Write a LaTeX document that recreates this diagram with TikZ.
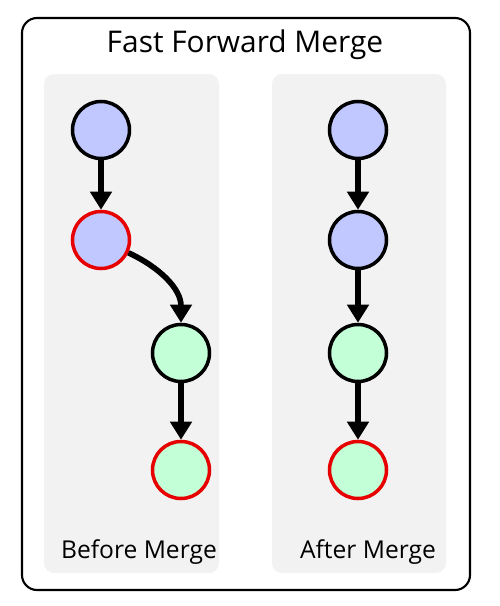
\documentclass[tikz,border=0pt]{standalone}
\usepackage{fontspec}
\setmainfont{Open Sans}
\usetikzlibrary{arrows.meta}

\definecolor{commitblue}{RGB}{192,200,255}
\definecolor{commitgreen}{RGB}{195,255,215}
\definecolor{ringred}{RGB}{230,0,0}
\definecolor{panelgray}{RGB}{242,242,242}

\tikzset{
  bluenode/.style={circle, draw, line width=2pt, fill=commitblue, minimum size=11.4mm, inner sep=0pt},
  greennode/.style={bluenode, fill=commitgreen},
  redring/.style={draw=ringred},
  link/.style={line width=3.2pt, -{Triangle[length=3.6mm,width=4.2mm]}},
  panel/.style={fill=panelgray, rounded corners=2mm}
}

\begin{document}
\begin{tikzpicture}
\useasboundingbox (0,0) rectangle (10,-12.12);

% Marco exterior
\draw[line width=1.2pt, rounded corners=3mm] (0.44,-0.36) rectangle (9.4,-11.8);
\node (title) at (4.9,-0.9) {\fontsize{17}{20}\selectfont Fast Forward Merge};

% Paneles
\fill[panel] (0.88,-1.48) rectangle (4.38,-11.46);
\fill[panel] (5.44,-1.48) rectangle (8.92,-11.46);

% Antes
\node[bluenode] (b1) at (2.02,-2.6) {};
\node[bluenode, redring] (b2) at (2.02,-4.8) {};
\node[greennode] (b3) at (3.62,-7.06) {};
\node[greennode, redring] (b4) at (3.62,-9.4) {};

\draw[link] (b1) -- (b2);
\draw[link] (b2.-25) to[out=-25, in=90] (b3.north);
\draw[link] (b3) -- (b4);

\node (before) at (2.78,-11.04) {\fontsize{14}{17}\selectfont Before Merge};

% Despues
\node[bluenode] (a1) at (7.16,-2.6) {};
\node[bluenode] (a2) at (7.16,-4.8) {};
\node[greennode] (a3) at (7.16,-7.06) {};
\node[greennode, redring] (a4) at (7.16,-9.4) {};

\foreach \i [count=\j from 2] in {1,2,3}
	\draw[link] (a\i) -- (a\j);

\node (after) at (7.36,-11.04) {\fontsize{14}{17}\selectfont After Merge};
\end{tikzpicture}
\end{document}
